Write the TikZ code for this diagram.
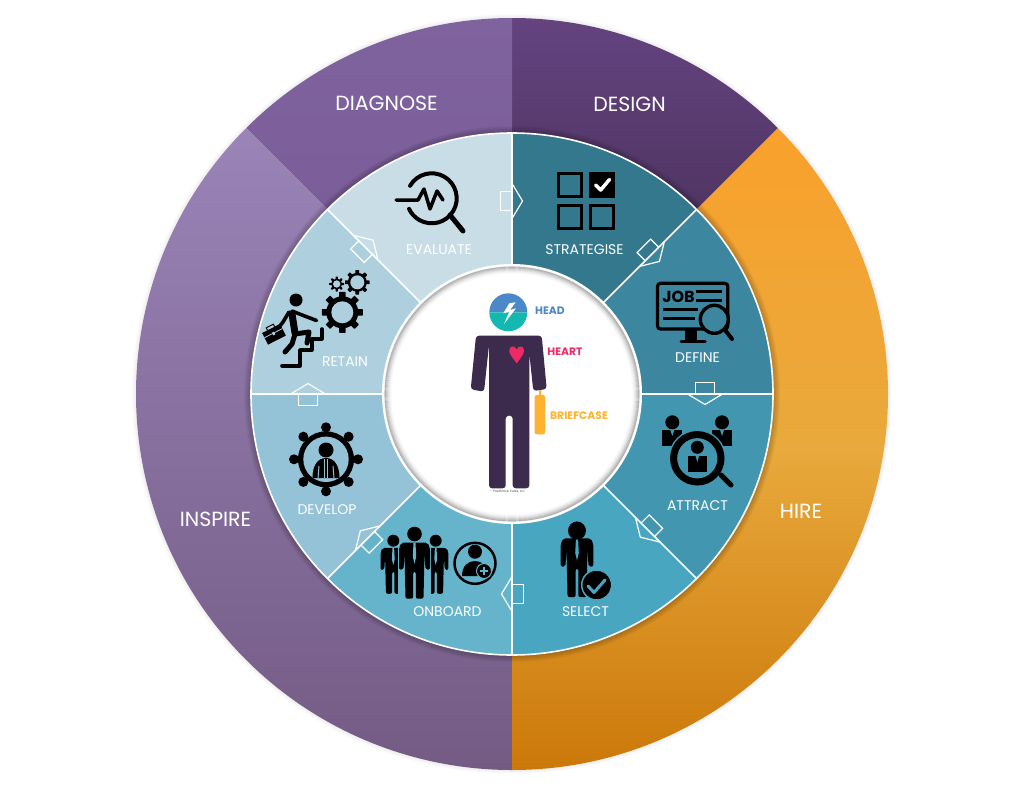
\documentclass[tikz,border=0pt]{standalone}
\usepackage{fontspec}
\setmainfont{Poppins}
\usepackage{tikz}

\definecolor{segstrategise}{HTML}{33788C}
\definecolor{segdefine}{HTML}{3D869F}
\definecolor{segattract}{HTML}{4296B0}
\definecolor{segselect}{HTML}{48A6C1}
\definecolor{segonboard}{HTML}{66B4CC}
\definecolor{segdevelop}{HTML}{94C2D6}
\definecolor{segretain}{HTML}{AED0DE}
\definecolor{segevaluate}{HTML}{C8DDE6}
\definecolor{suit}{HTML}{3C2B4C}
\definecolor{headblue}{HTML}{4A88C7}
\definecolor{headteal}{HTML}{13B9B0}
\definecolor{heartpink}{HTML}{EE2A66}
\definecolor{caseyellow}{HTML}{FDB32F}
\definecolor{designtop}{HTML}{64437F}
\definecolor{designbot}{HTML}{503563}
\definecolor{diagtop}{HTML}{7F639E}
\definecolor{diagbot}{HTML}{7B5E99}
\definecolor{inspiretop}{HTML}{9A84B8}
\definecolor{inspirebot}{HTML}{735B84}
\definecolor{hiretop}{HTML}{F9A12C}
\definecolor{hiremid}{HTML}{E9A93C}
\definecolor{hirebot}{HTML}{CB7809}

\tikzset{
  biglabel/.style={text=white,font=\fontsize{20.5}{21}\selectfont,inner sep=0pt},
  seglabel/.style={text=white,font=\fontsize{14}{15}\selectfont,inner sep=0pt},
  bodylabel/.style={font=\bfseries\fontsize{10.8}{11}\selectfont,inner sep=0pt},
  arrowline/.style={draw=white,line width=1.2pt,line join=miter},
  segline/.style={draw=white,line width=1.6pt},
  iconline/.style={draw=black,line cap=round,line join=round},
}

% ring segment: start angle, end angle, outer radius, inner radius
\newcommand{\segpath}[4]{([shift={(#1:#3pt)}]o) arc[start angle=#1,end angle=#2,radius=#3pt] -- ([shift={(#2:#4pt)}]o) arc[start angle=#2,end angle=#1,radius=#4pt] -- cycle}
% block arrow on a segment border: rotation, radius
\newcommand{\arrowmark}[2]{
  \begin{scope}[shift={(o)},rotate=#1]
    \draw[arrowline] (0,-#2+9.5) -- (-11.5,-#2+9.5) -- (-11.5,-#2-9.5) -- (0,-#2-9.5);
    \draw[arrowline] (0,-#2-17.5) -- (10.5,-#2) -- (0,-#2+17.5);
  \end{scope}}
% man in a suit: x, y of head top, scale, colour behind
\newcommand{\suitman}[4]{
  \begin{scope}[shift={(#1,#2)},scale=#3]
    \fill[black] (0,7.3) circle[radius=7.3pt];
    \fill[black,rounded corners=2pt] (-13,16) -- (13,16) -- (15.5,21) -- (15.5,43) -- (11,43) -- (10,26) -- (9,72) -- (1.3,72) -- (1.3,45) -- (-1.3,45) -- (-1.3,72) -- (-9,72) -- (-10,26) -- (-11,43) -- (-15.5,43) -- (-15.5,21) -- cycle;
    \fill[#4] (-1,16) -- (1,16) -- (1.7,30) -- (0,37) -- (-1.7,30) -- cycle;
  \end{scope}}
% gear: x, y, body radius, hole radius, teeth, tooth length, colour behind
\newcommand{\gearicon}[7]{
  \fill[black] (#1,#2) circle[radius=#3pt];
  \foreach \t in {1,...,#5} {
    \fill[black,shift={(#1,#2)},rotate=\t*360/#5,rounded corners=0.5pt] (-#3*0.2,0) rectangle (#3*0.2,-#3-#6);
  }
  \fill[#7] (#1,#2) circle[radius=#4pt];}

\begin{document}
\begin{tikzpicture}[x=1pt,y=-1pt]
  \useasboundingbox (0,0) rectangle (1024,787);
  \coordinate (o) at (512,394);

  %soft shadow under the outer ring
  \foreach \i in {1,...,4} {
    \fill[black,opacity=0.015] (o) circle[radius=376pt+\i*1pt];
  }

  %outer ring
  \shade[top color=designtop,bottom color=designbot] \segpath{45}{90}{376}{258};
  \shade[top color=diagtop,bottom color=diagbot] \segpath{90}{135}{376}{258};
  \shade[top color=inspiretop,bottom color=inspirebot] \segpath{135}{270}{376}{258};
  \shade[top color=hiretop,bottom color=hirebot,middle color=hiremid] \segpath{-90}{45}{376}{258};

  %shadow of the inner ring
  \foreach \i in {1,...,7} {
    \fill[black,opacity=0.035] (o) circle[radius=261pt+\i*1pt];
  }

  %inner ring
  \fill[segstrategise] \segpath{45}{90}{261}{128};
  \fill[segdefine] \segpath{0}{45}{261}{128};
  \fill[segattract] \segpath{-45}{0}{261}{128};
  \fill[segselect] \segpath{-90}{-45}{261}{128};
  \fill[segonboard] \segpath{-135}{-90}{261}{128};
  \fill[segdevelop] \segpath{-180}{-135}{261}{128};
  \fill[segretain] \segpath{135}{180}{261}{128};
  \fill[segevaluate] \segpath{90}{135}{261}{128};
  \foreach \a in {0,45,...,315} {
    \draw[segline] ([shift={(\a:128pt)}]o) -- ([shift={(\a:261pt)}]o);
  }
  \draw[segline] (o) circle[radius=261pt];

  %centre disc
  \fill[white] (o) circle[radius=130pt];
  \foreach \i/\op in {1/.27,2/.21,3/.16,4/.11,5/.07,6/.04,7/.02} {
    \draw[black,opacity=\op,line width=1.1pt] (o) circle[radius=128pt-\i*1pt];
  }

  %arrows between the segments
  \arrowmark{0}{193}
  \arrowmark{-45}{198}
  \arrowmark{-90}{193}
  \arrowmark{-135}{192}
  \arrowmark{-180}{200}
  \arrowmark{-225}{204}
  \arrowmark{-270}{204}
  \arrowmark{-315}{207}

  %evaluate
  \draw[iconline,line width=4pt] (431.7,198.3) ++(150:25pt) arc[start angle=150,end angle=-155,radius=25pt];
  \draw[iconline,line width=3.5pt] (396,200) -- (418,200) -- (424,189) -- (430,209) -- (437,191) -- (443,200);
  \draw[iconline,line width=5pt] (450,215) -- (463,231);

  %strategise
  \draw[black,line width=3pt] (558.8,173.2) rectangle (581.8,196.2);
  \fill[black] (589,171.7) rectangle (615,197.7);
  \draw[black,line width=3pt] (558.8,205.5) rectangle (581.8,228.5);
  \draw[black,line width=3pt] (590.5,205.5) rectangle (613.5,228.5);
  \draw[white,line width=3.5pt,line cap=round,line join=round] (595.5,185) -- (600.7,190) -- (609.5,179.5);

  %define
  \draw[black,line width=3.2pt,rounded corners=3pt] (657.5,283.3) rectangle (727.8,329);
  \node[inner sep=0pt,font=\bfseries\fontsize{16}{16}\selectfont] (jobtext) at (678.5,297) {JOB};
  \draw[black,line width=2.6pt] (696,291.7) -- (722,291.7);
  \draw[black,line width=2.6pt] (696,300.7) -- (722,300.7);
  \draw[black,line width=2.6pt] (663,309.3) -- (698,309.3);
  \draw[black,line width=2.6pt] (663,318.3) -- (695,318.3);
  \fill[black] (685,329) rectangle (697,340);
  \draw[black,line width=3pt,line cap=round] (681,341) -- (705,341);
  \draw[iconline,line width=3.4pt,fill=segdefine] (714.3,319.3) circle[radius=14pt];
  \draw[iconline,line width=4pt] (725,330) -- (732,339);

  %attract
  \fill[black] (672.3,422.3) circle[radius=7pt];
  \fill[black] (662.3,430) rectangle (682.3,445.7);
  \fill[segattract] (670.3,430) -- (674.3,430) -- (672.3,436) -- cycle;
  \fill[black] (722,422.3) circle[radius=7pt];
  \fill[black] (712.3,430) rectangle (732.3,445.7);
  \fill[segattract] (720,430) -- (724,430) -- (722,436) -- cycle;
  \draw[draw=segattract,fill=segattract,line width=10pt] (697.3,458.3) circle[radius=23.7pt];
  \draw[black,line width=7pt] (697.3,458.3) circle[radius=23.7pt];
  \draw[iconline,line width=5pt] (721,475) -- (731,485);
  \fill[black] (697.3,447.3) circle[radius=6.5pt];
  \fill[black] (687.7,456) rectangle (707.3,471.7);
  \fill[segattract] (695.5,456) -- (699.1,456) -- (697.3,462) -- cycle;

  %select
  \suitman{577}{521.5}{1.05}{segselect}
  \fill[black] (577,530.7) circle[radius=9pt];
  \draw[draw=segselect,fill=black,line width=1.5pt] (596.7,585) circle[radius=15pt];
  \draw[segselect,line width=3pt,line cap=round,line join=round] (588,586) -- (594,592.5) -- (605,580);

  %onboard
  \suitman{393.3}{534.7}{0.82}{segonboard}
  \suitman{435.7}{534.7}{0.82}{segonboard}
  \fill[segonboard] (398,545) rectangle (431,600);
  \suitman{414.5}{526.7}{1}{segonboard}
  \draw[black,line width=2.5pt] (475,563.3) circle[radius=20.5pt];
  \fill[black] (475,551.7) circle[radius=7pt];
  \fill[black] (462,576) .. controls (462,566) and (468,561) .. (475,561) .. controls (482,561) and (488,566) .. (488,576) -- cycle;
  \draw[draw=segonboard,fill=black,line width=1pt] (484,571) circle[radius=7.5pt];
  \draw[segonboard,line width=1.6pt] (480,571) -- (488,571);
  \draw[segonboard,line width=1.6pt] (484,567) -- (484,575);

  %develop
  \foreach \a in {0,45,...,315} {
    \fill[black] ([shift={(\a:32pt)}]326,459.3) circle[radius=5pt];
  }
  \fill[black] (326,459.3) circle[radius=28pt];
  \fill[segdevelop] (326,459.3) circle[radius=22.7pt];
  \fill[black] (326,450) circle[radius=7.5pt];
  \fill[black] (312.5,478) .. controls (312.5,465) and (318,458) .. (326,458) .. controls (334,458) and (339.5,465) .. (339.5,478) -- cycle;
  \draw[segdevelop,line width=1pt] (318,478) -- (319,466);
  \draw[segdevelop,line width=1pt] (334,478) -- (333,466);
  \draw[segdevelop,line width=1pt] (324.5,459) -- (324.5,478);
  \draw[segdevelop,line width=1pt] (327.5,459) -- (327.5,478);

  %retain
  \gearicon{342.3}{312.3}{16}{11}{8}{4.5}{segretain}
  \gearicon{357.3}{282.3}{9.5}{7}{8}{2.8}{segretain}
  \gearicon{336.7}{284}{5.5}{3.7}{8}{2}{segretain}
  \fill[black] (296,300) circle[radius=6.5pt];
  \draw[iconline,line width=7pt] (292,314) -- (295,333);
  \draw[iconline,line width=3.6pt] (292,311) -- (302,315) -- (316.5,320.5);
  \draw[iconline,line width=3.6pt] (289,312) -- (283,322) -- (279,327);
  \draw[iconline,line width=5pt] (295,334) -- (309,332) -- (307,343);
  \draw[iconline,line width=5pt] (295,334) -- (292,344) -- (285,352);
  \draw[iconline,line width=3.6pt] (282,365.7) -- (300,365.7) -- (300,350) -- (311.7,350) -- (311.7,339) -- (321.7,339) -- (321.7,329);
  \fill[black,rotate around={27:(274,334.3)}] (264,327.8) rectangle (284,340.8);
  \draw[segretain,line width=0.8pt,rotate around={27:(274,334.3)}] (264,333) -- (284,333);
  \fill[segretain,rotate around={27:(274,334.3)}] (272.8,332) rectangle (275.2,335);
  \draw[black,line width=1pt,rotate around={27:(274,334.3)}] (270,327.8) -- (270,325) -- (278,325) -- (278,327.8);

  %figure in the centre
  \fill[headblue] (489.3,312.3) arc[start angle=180,end angle=0,radius=19pt] -- cycle;
  \fill[headteal] (489.3,312.3) arc[start angle=180,end angle=360,radius=19pt] -- cycle;
  \fill[white] (509.3,303.3) -- (503.3,313.3) -- (509.3,311.7) -- (504,324) -- (516,308.3) -- (510,310) -- (515.7,302.3) -- cycle;
  \fill[suit,rounded corners=3pt] (476,335.7) -- (541.7,335.7) -- (546.7,389) -- (533.3,391) -- (529.3,353.3) -- (529.3,488.3) -- (512.7,488.3) -- (512.7,415.7) -- (505.7,415.7) -- (505.7,488.3) -- (489,488.3) -- (489,345) -- (484,391.7) -- (470.7,389.3) -- cycle;
  \fill[heartpink] (516.7,363.3) .. controls (512,357) and (509.3,354) .. (509.3,350.5) .. controls (509.3,345.5) and (515,345) .. (516.7,349.5) .. controls (518.4,345) and (524,345.5) .. (524,350.5) .. controls (524,354) and (521.4,357) .. (516.7,363.3) -- cycle;
  \fill[caseyellow] (539,390) rectangle (541,396);
  \fill[caseyellow,rounded corners=2pt] (534.7,395) rectangle (545,434.3);
  \node[bodylabel,text=headblue] (headtext) at (550,310.5) {HEAD};
  \node[bodylabel,text=heartpink] (hearttext) at (565,351.5) {HEART};
  \node[bodylabel,text=caseyellow] (casetext) at (579,415.5) {BRIEFCASE};
  \node[inner sep=0pt,text=black!70,font=\fontsize{3.2}{4}\selectfont] (copytext) at (507.5,492) {\textcopyright{} Predictive Index, LLC};

  %labels
  \node[biglabel] (diagnose) at (386.5,103) {DIAGNOSE};
  \node[biglabel] (design) at (629.5,104.5) {DESIGN};
  \node[biglabel] (hire) at (801,511) {HIRE};
  \node[biglabel] (inspire) at (215.5,519) {INSPIRE};
  \node[seglabel] (evaluate) at (439,249.5) {EVALUATE};
  \node[seglabel] (strategise) at (584.5,249.5) {STRATEGISE};
  \node[seglabel] (define) at (697.5,358) {DEFINE};
  \node[seglabel] (attract) at (697.5,505.5) {ATTRACT};
  \node[seglabel] (select) at (585.5,612) {SELECT};
  \node[seglabel] (onboard) at (447.5,612) {ONBOARD};
  \node[seglabel] (develop) at (327,510) {DEVELOP};
  \node[seglabel] (retain) at (345,362) {RETAIN};
\end{tikzpicture}
\end{document}
